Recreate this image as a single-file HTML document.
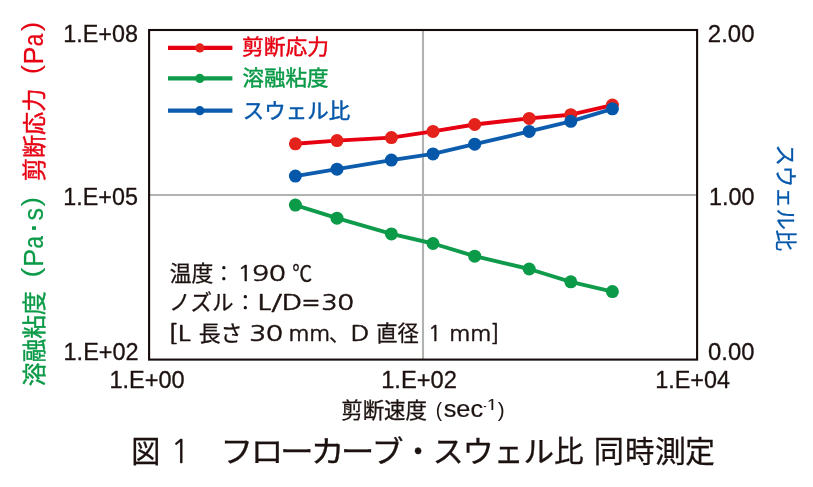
<!DOCTYPE html>
<html lang="ja">
<head>
<meta charset="utf-8">
<title>図1 フローカーブ・スウェル比 同時測定</title>
<style>
html,body{margin:0;padding:0;background:#fff;}
body{width:813px;height:487px;overflow:hidden;}
svg{display:block;}
text{white-space:pre;}
</style>
</head>
<body>
<svg width="813" height="487" viewBox="0 0 813 487">
<rect x="0" y="0" width="813" height="487" fill="#ffffff"/>
<!-- grid -->
<line x1="149" y1="194.95" x2="697" y2="194.95" stroke="#b1b3b1" stroke-width="2.1"/>
<line x1="423" y1="30" x2="423" y2="359" stroke="#b1b3b1" stroke-width="2.1"/>
<!-- series -->
<polyline fill="none" stroke="#0f9b4b" stroke-width="3.9" stroke-linejoin="round" stroke-linecap="round" points="295.4,205.1 337.0,218.2 391.4,233.9 433.0,243.5 474.7,256.2 529.2,269.0 570.8,281.8 612.4,291.6"/>
<g fill="#0b9a47"><circle cx="295.4" cy="205.1" r="6.5"/><circle cx="337.0" cy="218.2" r="6.5"/><circle cx="391.4" cy="233.9" r="6.5"/><circle cx="433.0" cy="243.5" r="6.5"/><circle cx="474.7" cy="256.2" r="6.5"/><circle cx="529.2" cy="269.0" r="6.5"/><circle cx="570.8" cy="281.8" r="6.5"/><circle cx="612.4" cy="291.6" r="6.5"/></g>
<polyline fill="none" stroke="#e60012" stroke-width="3.9" stroke-linejoin="round" stroke-linecap="round" points="295.4,143.8 337.0,140.6 391.4,137.6 433.0,131.4 474.7,124.5 529.2,118.4 570.8,114.7 612.4,105.1"/>
<g fill="#e5211b"><circle cx="295.4" cy="143.8" r="6.5"/><circle cx="337.0" cy="140.6" r="6.5"/><circle cx="391.4" cy="137.6" r="6.5"/><circle cx="433.0" cy="131.4" r="6.5"/><circle cx="474.7" cy="124.5" r="6.5"/><circle cx="529.2" cy="118.4" r="6.5"/><circle cx="570.8" cy="114.7" r="6.5"/><circle cx="612.4" cy="105.1" r="6.5"/></g>
<polyline fill="none" stroke="#0d5cae" stroke-width="3.9" stroke-linejoin="round" stroke-linecap="round" points="295.4,176.1 337.0,169.2 391.4,160.1 433.0,153.9 474.7,144.2 529.2,131.4 570.8,121.3 612.4,108.8"/>
<g fill="#0557aa"><circle cx="295.4" cy="176.1" r="6.5"/><circle cx="337.0" cy="169.2" r="6.5"/><circle cx="391.4" cy="160.1" r="6.5"/><circle cx="433.0" cy="153.9" r="6.5"/><circle cx="474.7" cy="144.2" r="6.5"/><circle cx="529.2" cy="131.4" r="6.5"/><circle cx="570.8" cy="121.3" r="6.5"/><circle cx="612.4" cy="108.8" r="6.5"/></g>
<!-- frame -->
<rect x="149.1" y="30" width="548" height="329.6" fill="none" stroke="#150b0a" stroke-width="2.1"/>
<!-- legend -->
<g stroke-width="4.2">
<line x1="168" y1="47.9" x2="232.4" y2="47.9" stroke="#e60012"/><circle cx="199.8" cy="47.9" r="4.6" fill="#e5211b" stroke="none"/>
<line x1="168" y1="78.4" x2="232.4" y2="78.4" stroke="#0f9b4b"/><circle cx="199.8" cy="78.4" r="4.6" fill="#0b9a47" stroke="none"/>
<line x1="168" y1="110.7" x2="232.4" y2="110.7" stroke="#0d5cae"/><circle cx="199.8" cy="110.7" r="4.6" fill="#0557aa" stroke="none"/>
</g>
<!-- text -->
<text x="63.37" y="41.5" font-family='"Liberation Sans", sans-serif' font-size="23" fill="#1c1210" stroke="#1c1210" stroke-width="0.3" textLength="74.59" lengthAdjust="spacingAndGlyphs">1.E+08</text>
<text x="63.37" y="204.8" font-family='"Liberation Sans", sans-serif' font-size="23" fill="#1c1210" stroke="#1c1210" stroke-width="0.3" textLength="74.56" lengthAdjust="spacingAndGlyphs">1.E+05</text>
<text x="63.56" y="359.5" font-family='"Liberation Sans", sans-serif' font-size="23" fill="#1c1210" stroke="#1c1210" stroke-width="0.3" textLength="75.07" lengthAdjust="spacingAndGlyphs">1.E+02</text>
<text x="109.46" y="387.5" font-family='"Liberation Sans", sans-serif' font-size="23" fill="#1c1210" stroke="#1c1210" stroke-width="0.3" textLength="75.21" lengthAdjust="spacingAndGlyphs">1.E+00</text>
<text x="381.15" y="387.5" font-family='"Liberation Sans", sans-serif' font-size="23" fill="#1c1210" stroke="#1c1210" stroke-width="0.3" textLength="75.69" lengthAdjust="spacingAndGlyphs">1.E+02</text>
<text x="655.27" y="387.5" font-family='"Liberation Sans", sans-serif' font-size="23" fill="#1c1210" stroke="#1c1210" stroke-width="0.3" textLength="74.77" lengthAdjust="spacingAndGlyphs">1.E+04</text>
<text x="707.84" y="41.6" font-family='"Liberation Sans", sans-serif' font-size="23" fill="#1c1210" stroke="#1c1210" stroke-width="0.3" textLength="46.64" lengthAdjust="spacingAndGlyphs">2.00</text>
<text x="708.97" y="204.7" font-family='"Liberation Sans", sans-serif' font-size="23" fill="#1c1210" stroke="#1c1210" stroke-width="0.3" textLength="45.49" lengthAdjust="spacingAndGlyphs">1.00</text>
<text x="708.12" y="359.6" font-family='"Liberation Sans", sans-serif' font-size="23" fill="#1c1210" stroke="#1c1210" stroke-width="0.3" textLength="46.36" lengthAdjust="spacingAndGlyphs">0.00</text>
<text><tspan x="169.72" y="280.5" font-family='"Noto Sans CJK JP", "Liberation Sans", sans-serif' font-size="21.7" fill="#1c1210" stroke="#1c1210" stroke-width="0.3" textLength="43.68" lengthAdjust="spacingAndGlyphs">温度</tspan><tspan x="212.9" y="280.5" font-family='"Noto Sans CJK JP", "Liberation Sans", sans-serif' font-size="21.7" fill="#1c1210">：</tspan><tspan x="237.55" y="280.5" font-family='"NanumGothic", "Liberation Sans", sans-serif' font-size="22.3" fill="#1c1210" stroke="#1c1210" stroke-width="0.5" textLength="14.95" lengthAdjust="spacingAndGlyphs">1</tspan><tspan x="252.26" y="280.5" font-family='"NanumGothic", "Liberation Sans", sans-serif' font-size="22.3" fill="#1c1210" stroke="#1c1210" stroke-width="0.5" textLength="33.51" lengthAdjust="spacingAndGlyphs">90</tspan><tspan> </tspan><tspan x="292.31" y="280.5" font-family='"Noto Sans CJK JP", "Liberation Sans", sans-serif' font-size="21.7" fill="#1c1210" stroke="#1c1210" stroke-width="0.3" textLength="19.98" lengthAdjust="spacingAndGlyphs">℃</tspan></text>
<text><tspan x="168.93" y="310" font-family='"Noto Sans CJK JP", "Liberation Sans", sans-serif' font-size="21.7" fill="#1c1210" stroke="#1c1210" stroke-width="0.3" textLength="64.76" lengthAdjust="spacingAndGlyphs">ノズル</tspan><tspan x="234.5" y="310" font-family='"Noto Sans CJK JP", "Liberation Sans", sans-serif' font-size="21.7" fill="#1c1210">：</tspan><tspan x="257.49" y="310" font-family='"NanumGothic", "Liberation Sans", sans-serif' font-size="22.3" fill="#1c1210" stroke="#1c1210" stroke-width="0.5" textLength="44.88" lengthAdjust="spacingAndGlyphs">L/D</tspan><tspan x="302.29" y="310" font-family='"NanumGothic", "Liberation Sans", sans-serif' font-size="22.3" fill="#1c1210" stroke="#1c1210" stroke-width="0.5" textLength="17.25" lengthAdjust="spacingAndGlyphs">=</tspan><tspan x="321.24" y="310" font-family='"NanumGothic", "Liberation Sans", sans-serif' font-size="22.3" fill="#1c1210" stroke="#1c1210" stroke-width="0.5" textLength="32.59" lengthAdjust="spacingAndGlyphs">30</tspan></text>
<text><tspan x="168.1" y="340.5" font-family='"NanumGothic", "Liberation Sans", sans-serif' font-size="22.3" fill="#1c1210" stroke="#1c1210" stroke-width="0.5" textLength="22.55" lengthAdjust="spacingAndGlyphs">[L</tspan><tspan> </tspan><tspan x="198.69" y="340.5" font-family='"Noto Sans CJK JP", "Liberation Sans", sans-serif' font-size="21.7" fill="#1c1210" stroke="#1c1210" stroke-width="0.3" textLength="43.89" lengthAdjust="spacingAndGlyphs">長さ</tspan><tspan> </tspan><tspan x="249.17" y="340.5" font-family='"NanumGothic", "Liberation Sans", sans-serif' font-size="22.3" fill="#1c1210" stroke="#1c1210" stroke-width="0.5" textLength="33.81" lengthAdjust="spacingAndGlyphs">30</tspan><tspan> </tspan><tspan x="288.48" y="340.5" font-family='"NanumGothic", "Liberation Sans", sans-serif' font-size="22.3" fill="#1c1210" stroke="#1c1210" stroke-width="0.5" textLength="41.71" lengthAdjust="spacingAndGlyphs">mm</tspan><tspan x="328.69" y="340.5" font-family='"Noto Sans CJK JP", "Liberation Sans", sans-serif' font-size="21.7" fill="#1c1210">、</tspan><tspan x="350.48" y="340.5" font-family='"NanumGothic", "Liberation Sans", sans-serif' font-size="22.3" fill="#1c1210" stroke="#1c1210" stroke-width="0.5" textLength="18.93" lengthAdjust="spacingAndGlyphs">D</tspan><tspan> </tspan><tspan x="376.13" y="340.5" font-family='"Noto Sans CJK JP", "Liberation Sans", sans-serif' font-size="21.7" fill="#1c1210" stroke="#1c1210" stroke-width="0.3" textLength="42.69" lengthAdjust="spacingAndGlyphs">直径</tspan><tspan> </tspan><tspan x="428.12" y="340.5" font-family='"NanumGothic", "Liberation Sans", sans-serif' font-size="22.3" fill="#1c1210" stroke="#1c1210" stroke-width="0.5" textLength="13.35" lengthAdjust="spacingAndGlyphs">1</tspan><tspan> </tspan><tspan x="449.27" y="340.5" font-family='"NanumGothic", "Liberation Sans", sans-serif' font-size="22.3" fill="#1c1210" stroke="#1c1210" stroke-width="0.5" textLength="50.47" lengthAdjust="spacingAndGlyphs">mm]</tspan></text>
<text x="242.04" y="54.4" font-family='"Noto Sans CJK JP", "Liberation Sans", sans-serif' font-size="21" fill="#e60012" stroke="#e60012" stroke-width="0.45" textLength="86.96" lengthAdjust="spacingAndGlyphs">剪断応力</text>
<text x="242.61" y="85.1" font-family='"Noto Sans CJK JP", "Liberation Sans", sans-serif' font-size="21" fill="#0b9a47" stroke="#0b9a47" stroke-width="0.45" textLength="86.01" lengthAdjust="spacingAndGlyphs">溶融粘度</text>
<text x="242.78" y="117.7" font-family='"Noto Sans CJK JP", "Liberation Sans", sans-serif' font-size="21" fill="#0557aa" stroke="#0557aa" stroke-width="0.45" textLength="107.47" lengthAdjust="spacingAndGlyphs">スウェル比</text>
<text><tspan x="341.18" y="418.3" font-family='"Noto Sans CJK JP", "Liberation Sans", sans-serif' font-size="21.7" fill="#1c1210" stroke="#1c1210" stroke-width="0.3" textLength="85.91" lengthAdjust="spacingAndGlyphs">剪断速度</tspan><tspan> </tspan><tspan x="435.73" y="416.6" font-family='"Liberation Sans", sans-serif' font-size="20.6" fill="#1c1210" textLength="6.28" lengthAdjust="spacingAndGlyphs">(</tspan><tspan x="443.7" y="417.3" font-family='"Liberation Sans", sans-serif' font-size="23.5" fill="#1c1210" stroke="#1c1210" stroke-width="0.2" textLength="39.37" lengthAdjust="spacingAndGlyphs">sec</tspan><tspan x="483.25" y="410.2" font-family='"Liberation Sans", sans-serif' font-size="13.5" fill="#1c1210" textLength="3.41" lengthAdjust="spacingAndGlyphs">-</tspan><tspan x="485.89" y="410.2" font-family='"NanumGothic", "Liberation Sans", sans-serif' font-size="13.4" fill="#1c1210" stroke="#1c1210" stroke-width="0.2" textLength="12.01" lengthAdjust="spacingAndGlyphs">1</tspan><tspan x="497.78" y="416.6" font-family='"Liberation Sans", sans-serif' font-size="20.6" fill="#1c1210" textLength="6.91" lengthAdjust="spacingAndGlyphs">)</tspan></text>
<text><tspan x="131.29" y="462.1" font-family='"Noto Sans CJK JP", "Liberation Sans", sans-serif' font-size="29.6" fill="#1c1210" stroke="#1c1210" stroke-width="0.3" textLength="29.14" lengthAdjust="spacingAndGlyphs">図</tspan><tspan> </tspan><tspan x="170.81" y="463" font-family='"NanumGothic", "Liberation Sans", sans-serif' font-size="32.3" fill="#1c1210" stroke="#1c1210" stroke-width="0.3" textLength="18.95" lengthAdjust="spacingAndGlyphs">1</tspan><tspan>　</tspan><tspan x="220.25" y="462.1" font-family='"Noto Sans CJK JP", "Liberation Sans", sans-serif' font-size="29.6" fill="#1c1210" stroke="#1c1210" stroke-width="0.3" textLength="33.1" lengthAdjust="spacingAndGlyphs">フ</tspan><tspan x="250.72" y="462.1" font-family='"Noto Sans CJK JP", "Liberation Sans", sans-serif' font-size="29.6" fill="#1c1210" stroke="#1c1210" stroke-width="0.3" textLength="32.59" lengthAdjust="spacingAndGlyphs">ロ</tspan><tspan x="280.01" y="462.1" font-family='"Noto Sans CJK JP", "Liberation Sans", sans-serif' font-size="29.6" fill="#1c1210" stroke="#1c1210" stroke-width="0.3" textLength="33.71" lengthAdjust="spacingAndGlyphs">ー</tspan><tspan x="310.85" y="462.1" font-family='"Noto Sans CJK JP", "Liberation Sans", sans-serif' font-size="29.6" fill="#1c1210" stroke="#1c1210" stroke-width="0.3" textLength="33.91" lengthAdjust="spacingAndGlyphs">カ</tspan><tspan x="340.71" y="462.1" font-family='"Noto Sans CJK JP", "Liberation Sans", sans-serif' font-size="29.6" fill="#1c1210" stroke="#1c1210" stroke-width="0.3" textLength="33.71" lengthAdjust="spacingAndGlyphs">ー</tspan><tspan x="371.81" y="462.1" font-family='"Noto Sans CJK JP", "Liberation Sans", sans-serif' font-size="29.6" fill="#1c1210" stroke="#1c1210" stroke-width="0.3" textLength="31.82" lengthAdjust="spacingAndGlyphs">ブ</tspan><tspan x="403.35" y="462.1" font-family='"Noto Sans CJK JP", "Liberation Sans", sans-serif' font-size="29.6" fill="#1c1210" stroke="#1c1210" stroke-width="0.3">・</tspan><tspan x="432.51" y="462.1" font-family='"Noto Sans CJK JP", "Liberation Sans", sans-serif' font-size="29.6" fill="#1c1210" stroke="#1c1210" stroke-width="0.3" textLength="31.41" lengthAdjust="spacingAndGlyphs">ス</tspan><tspan x="462.58" y="462.1" font-family='"Noto Sans CJK JP", "Liberation Sans", sans-serif' font-size="29.6" fill="#1c1210" stroke="#1c1210" stroke-width="0.3" textLength="31.37" lengthAdjust="spacingAndGlyphs">ウ</tspan><tspan x="493.9" y="462.1" font-family='"Noto Sans CJK JP", "Liberation Sans", sans-serif' font-size="29.6" fill="#1c1210" stroke="#1c1210" stroke-width="0.3" textLength="29.34" lengthAdjust="spacingAndGlyphs">ェ</tspan><tspan x="523.53" y="462.1" font-family='"Noto Sans CJK JP", "Liberation Sans", sans-serif' font-size="29.6" fill="#1c1210" stroke="#1c1210" stroke-width="0.3" textLength="30.59" lengthAdjust="spacingAndGlyphs">ル</tspan><tspan x="554.09" y="462.1" font-family='"Noto Sans CJK JP", "Liberation Sans", sans-serif' font-size="29.6" fill="#1c1210" stroke="#1c1210" stroke-width="0.3" textLength="29.68" lengthAdjust="spacingAndGlyphs">比</tspan><tspan> </tspan><tspan x="593.8" y="462.1" font-family='"Noto Sans CJK JP", "Liberation Sans", sans-serif' font-size="29.6" fill="#1c1210" stroke="#1c1210" stroke-width="0.3" textLength="30.15" lengthAdjust="spacingAndGlyphs">同</tspan><tspan x="625.02" y="462.1" font-family='"Noto Sans CJK JP", "Liberation Sans", sans-serif' font-size="29.6" fill="#1c1210" stroke="#1c1210" stroke-width="0.3" textLength="29.39" lengthAdjust="spacingAndGlyphs">時</tspan><tspan x="654.97" y="462.1" font-family='"Noto Sans CJK JP", "Liberation Sans", sans-serif' font-size="29.6" fill="#1c1210" stroke="#1c1210" stroke-width="0.3" textLength="30.96" lengthAdjust="spacingAndGlyphs">測</tspan><tspan x="685.21" y="462.1" font-family='"Noto Sans CJK JP", "Liberation Sans", sans-serif' font-size="29.6" fill="#1c1210" stroke="#1c1210" stroke-width="0.3" textLength="29.69" lengthAdjust="spacingAndGlyphs">定</tspan></text>
<g transform="translate(43.2,0) rotate(-90)">
<text><tspan x="-181.16" y="-0.3" font-family='"Noto Sans CJK JP", "Liberation Sans", sans-serif' font-size="24" fill="#e60012" stroke="#e60012" stroke-width="0.4" textLength="92.51" lengthAdjust="spacingAndGlyphs">剪断応力</tspan><tspan> </tspan><tspan x="-74.33" y="-2.9" font-family='"Liberation Sans", sans-serif' font-size="24.9" fill="#e60012" textLength="9.29" lengthAdjust="spacingAndGlyphs">(</tspan><tspan x="-64.62" y="0" font-family='"Liberation Sans", sans-serif' font-size="27.3" fill="#e60012" stroke="#e60012" stroke-width="0.2" textLength="18.05" lengthAdjust="spacingAndGlyphs">P</tspan><tspan x="-46.35" y="0" font-family='"Liberation Sans", sans-serif' font-size="27.3" fill="#e60012" stroke="#e60012" stroke-width="0.2" textLength="12.45" lengthAdjust="spacingAndGlyphs">a</tspan><tspan x="-31.37" y="-2.9" font-family='"Liberation Sans", sans-serif' font-size="24.9" fill="#e60012" textLength="9.42" lengthAdjust="spacingAndGlyphs">)</tspan></text>
<text><tspan x="-386.2" y="-0.3" font-family='"Noto Sans CJK JP", "Liberation Sans", sans-serif' font-size="24" fill="#0b9a47" stroke="#0b9a47" stroke-width="0.4" textLength="94.93" lengthAdjust="spacingAndGlyphs">溶融粘度</tspan><tspan> </tspan><tspan x="-277.89" y="-2.9" font-family='"Liberation Sans", sans-serif' font-size="24.9" fill="#0b9a47" textLength="10.17" lengthAdjust="spacingAndGlyphs">(</tspan><tspan x="-267.05" y="0" font-family='"Liberation Sans", sans-serif' font-size="27.3" fill="#0b9a47" stroke="#0b9a47" stroke-width="0.2" textLength="18.3" lengthAdjust="spacingAndGlyphs">P</tspan><tspan x="-248.45" y="0" font-family='"Liberation Sans", sans-serif' font-size="27.3" fill="#0b9a47" stroke="#0b9a47" stroke-width="0.2" textLength="12.45" lengthAdjust="spacingAndGlyphs">a</tspan><tspan x="-234.3" y="0.75" font-family='"Liberation Sans", sans-serif' font-size="37" fill="#0b9a47">·</tspan><tspan x="-220.5" y="0" font-family='"Liberation Sans", sans-serif' font-size="27.3" fill="#0b9a47" stroke="#0b9a47" stroke-width="0.2" textLength="12.5" lengthAdjust="spacingAndGlyphs">s</tspan><tspan x="-206.47" y="-2.9" font-family='"Liberation Sans", sans-serif' font-size="24.9" fill="#0b9a47" textLength="9.55" lengthAdjust="spacingAndGlyphs">)</tspan></text>
</g>
<g transform="translate(777.6,0) rotate(90)">
<text x="144.42" y="0" font-family='"Noto Sans CJK JP", "Liberation Sans", sans-serif' font-size="21.7" fill="#0557aa" stroke="#0557aa" stroke-width="0.3" textLength="106.7" lengthAdjust="spacingAndGlyphs">スウェル比</text>
</g>
</svg>
</body>
</html>
